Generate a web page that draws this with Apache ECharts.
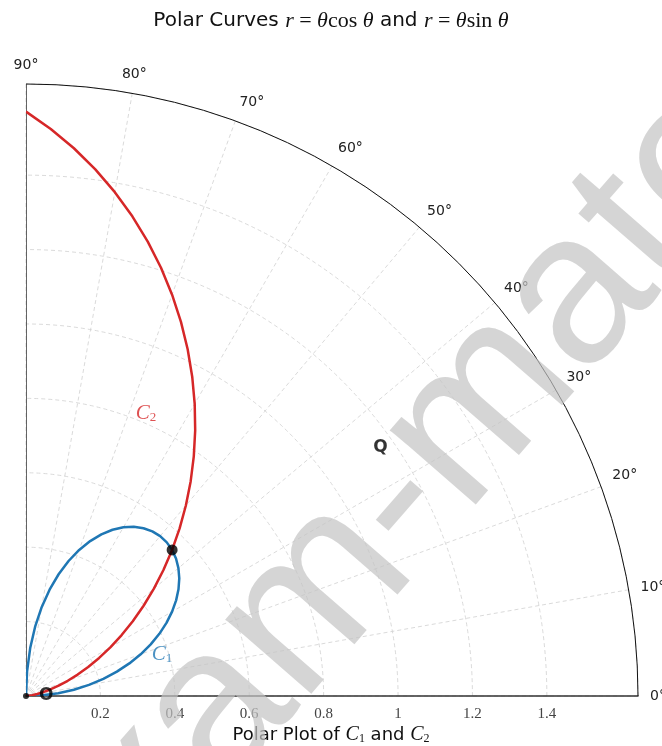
<!DOCTYPE html>
<html>
<head>
<meta charset="utf-8">
<script src="https://cdn.jsdelivr.net/npm/echarts@6/dist/echarts.min.js"></script>
<style>
  html, body { margin: 0; padding: 0; background: #ffffff; }
  #chart { width: 662px; height: 746px; }
</style>
</head>
<body>
<div id="chart"></div>
<script>
// Polar angle samples (degrees) and radii of the two curves
const thetaDeg = [0, 2.5, 5, 7.5, 10, 12.5, 15, 17.5, 20, 22.5, 25, 27.5, 30, 32.5, 35, 37.5, 40, 42.5, 45,
                  47.5, 50, 52.5, 55, 57.5, 60, 62.5, 65, 67.5, 70, 72.5, 75, 77.5, 80, 82.5, 85, 87.5, 90];
// C1 : r = θ cos θ
const c1R = [0, 0.0436, 0.0869, 0.1298, 0.1719, 0.2130, 0.2529, 0.2913, 0.3280, 0.3628, 0.3955, 0.4257,
             0.4534, 0.4784, 0.5004, 0.5193, 0.5348, 0.5469, 0.5554, 0.5601, 0.5609, 0.5578, 0.5506,
             0.5392, 0.5236, 0.5037, 0.4794, 0.4508, 0.4179, 0.3805, 0.3388, 0.2928, 0.2425, 0.1879,
             0.1293, 0.0666, 0];
// C2 : r = θ sin θ
const c2R = [0, 0.0019, 0.0076, 0.0171, 0.0303, 0.0472, 0.0678, 0.0919, 0.1194, 0.1503, 0.1844, 0.2216,
             0.2618, 0.3048, 0.3504, 0.3984, 0.4488, 0.5011, 0.5554, 0.6112, 0.6685, 0.7270, 0.7863,
             0.8464, 0.9069, 0.9676, 1.0282, 1.0884, 1.1480, 1.2068, 1.2644, 1.3206, 1.3751, 1.4276,
             1.4779, 1.5257, 1.5708];

// Radial tick labels and angular ticks
const radiusTicks = [0.2, 0.4, 0.6, 0.8, 1, 1.2, 1.4];
const angleTicks = [0, 10, 20, 30, 40, 50, 60, 70, 80, 90];
const radiusMax = 1.645;

// Marked points: [radius, angle]
const pointP = [0.5554, 45];
const pointO = [0, 0];
const pointQ = [1.163, 35];
const labelC1At = [0.382, 17];
const labelC2At = [0.825, 67];

const RED = '#d62728';
const BLUE = '#1f77b4';
const SERIF = 'Liberation Serif';
const SANS = 'DejaVu Sans';

const c1Data = thetaDeg.map((t, i) => [c1R[i], t]);
const c2Data = thetaDeg.map((t, i) => [c2R[i], t]);

const chart = echarts.init(document.getElementById('chart'), null, { renderer: 'canvas' });

function mathStyles(sans, serif, sub, color) {
  return {
    t: { fontFamily: SANS, fontWeight: 'normal', fontSize: sans, color: color },
    m: { fontFamily: SERIF, fontWeight: 'normal', fontStyle: 'italic', fontSize: serif, color: color },
    n: { fontFamily: SERIF, fontWeight: 'normal', fontSize: serif, color: color },
    s: { fontFamily: SERIF, fontWeight: 'normal', fontSize: sub, color: color,
         verticalAlign: 'bottom', padding: [Math.round(sub * 0.7), 0, 0, 0] }
  };
}

const hidden = { color: 'rgba(0,0,0,0)' };

chart.setOption({
  animation: false,
  backgroundColor: '#ffffff',
  title: [
    {
      text: '{t|Polar Curves }{m|r}{n| = }{m|θ}{n|cos}{m| θ}{t| and }{m|r}{n| = }{m|θ}{n|sin}{m| θ}',
      left: 'center', top: 5,
      textStyle: { fontWeight: 'normal', rich: mathStyles(20, 22, 13, '#111') }
    },
    {
      text: '{t|Polar Plot of }{m|C}{s|1}{t| and }{m|C}{s|2}',
      left: 'center', top: 720,
      textStyle: { fontWeight: 'normal', rich: mathStyles(18, 20, 12, '#111') }
    }
  ],
  polar: { center: [26, 696], radius: [0, 612] },
  angleAxis: {
    type: 'value',
    min: 0, max: 90, interval: 10,
    startAngle: 0, endAngle: 90, clockwise: false,
    axisLine: { show: true, lineStyle: { color: '#111', width: 1 } },
    axisTick: { show: false },
    axisLabel: {
      margin: 12, fontFamily: SANS, fontSize: 14, color: '#222',
      formatter: v => angleTicks.includes(v) ? v + '°' : ''
    },
    splitLine: { show: true, lineStyle: { color: '#d0d0d0', width: 0.8, type: [4, 3] } }
  },
  radiusAxis: {
    type: 'value',
    min: 0, max: radiusMax, interval: 0.2,
    axisLine: { show: true, lineStyle: { color: '#333', width: 1.5 } },
    axisTick: { show: false },
    axisLabel: {
      margin: -11, verticalAlign: 'top', align: 'center',
      fontFamily: SERIF, fontSize: 15, color: '#444',
      formatter: v => {
        const r = Math.round(v * 10) / 10;
        return radiusTicks.includes(r) ? String(r) : '';
      }
    },
    splitLine: {
      show: true,
      lineStyle: {
        color: ['#d0d0d0', '#d0d0d0', '#d0d0d0', '#d0d0d0', '#d0d0d0', '#d0d0d0', '#d0d0d0', '#d0d0d0', 'rgba(0,0,0,0)'],
        width: 0.8, type: [4, 3]
      }
    }
  },
  series: [
    {
      // edge of the quarter plane along θ = 90°
      type: 'line', coordinateSystem: 'polar', silent: true, symbol: 'none',
      data: [[0, 90], [radiusMax, 90]],
      lineStyle: { color: '#333', width: 1.5 }
    },
    {
      name: 'C1', type: 'line', coordinateSystem: 'polar', symbol: 'none',
      data: c1Data, lineStyle: { color: BLUE, width: 2.5 }
    },
    {
      name: 'C2', type: 'line', coordinateSystem: 'polar', symbol: 'none',
      data: c2Data, lineStyle: { color: RED, width: 2.5 }
    },
    {
      type: 'scatter', coordinateSystem: 'polar', symbol: 'circle', symbolSize: 11,
      itemStyle: { color: '#000' }, z: 5,
      data: [pointP]
    },
    {
      type: 'scatter', coordinateSystem: 'polar', symbol: 'circle', symbolSize: 6,
      itemStyle: { color: '#000' }, z: 5,
      data: [pointO],
      label: {
        show: true, position: 'right', distance: 10, formatter: 'O',
        fontFamily: SANS, fontWeight: 'bold', fontSize: 17, color: '#000'
      }
    },
    {
      type: 'scatter', coordinateSystem: 'polar', symbol: 'circle', symbolSize: 1,
      itemStyle: hidden, silent: true, z: 6,
      data: [
        { value: pointQ, label: { formatter: 'Q', fontFamily: SANS, fontWeight: 'bold', fontSize: 17, color: '#000' } },
        { value: labelC1At, label: { formatter: '{m|C}{s|1}', rich: mathStyles(20, 21, 13, BLUE) } },
        { value: labelC2At, label: { formatter: '{m|C}{s|2}', rich: mathStyles(20, 21, 13, RED) } }
      ],
      label: { show: true, position: 'inside' }
    }
  ],
  graphic: [
    {
      type: 'text', silent: true, z: 100,
      x: 382, y: 522, rotation: 0.855,
      style: {
        text: 'exam-mate', fontFamily: 'Liberation Sans', fontSize: 215,
        fill: 'rgba(195,195,195,0.7)', align: 'center', verticalAlign: 'middle'
      }
    }
  ]
});
</script>
</body>
</html>
